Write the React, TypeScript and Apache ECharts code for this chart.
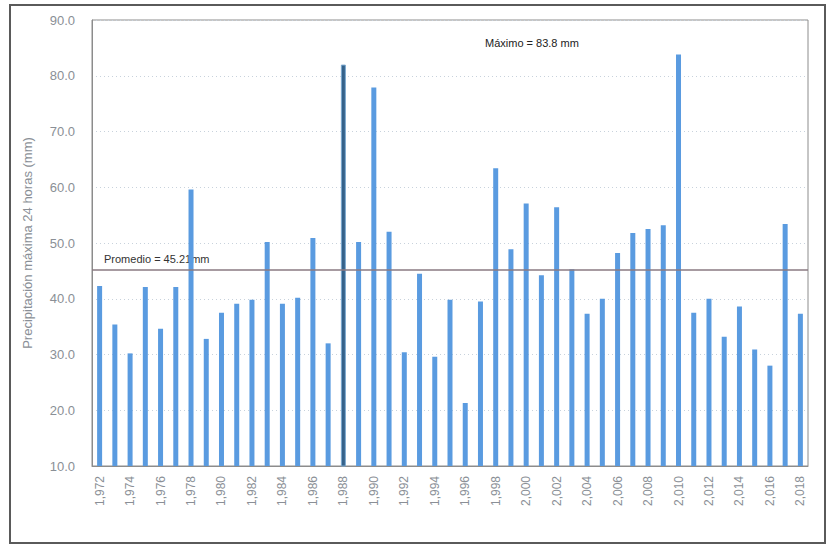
import React, { useEffect, useRef } from "react";
import * as echarts from "echarts";

const years = [
  1972, 1973, 1974, 1975, 1976, 1977, 1978, 1979, 1980, 1981, 1982, 1983, 1984, 1985, 1986, 1987,
  1988, 1989, 1990, 1991, 1992, 1993, 1994, 1995, 1996, 1997, 1998, 1999, 2000, 2001, 2002, 2003,
  2004, 2005, 2006, 2007, 2008, 2009, 2010, 2011, 2012, 2013, 2014, 2015, 2016, 2017, 2018,
];
const precip = [
  42.3, 35.4, 30.2, 42.1, 34.6, 42.1, 59.6, 32.8, 37.5, 39.1, 39.8, 50.2, 39.1, 40.2, 50.9, 32.0,
  82.0, 50.2, 77.9, 52.0, 30.4, 44.5, 29.6, 39.8, 21.3, 39.5, 63.4, 48.9, 57.1, 44.2, 56.4, 45.3,
  37.3, 40.0, 48.2, 51.8, 52.5, 53.2, 83.8, 37.5, 40.0, 33.2, 38.6, 30.9, 28.0, 53.4, 37.3,
];
const highlightYear = 1988;
const promedio = 45.21;
const maximo = 83.8;
const yTicks = [10, 20, 30, 40, 50, 60, 70, 80, 90];

export default function App() {
  const ref = useRef<HTMLDivElement>(null);
  useEffect(() => {
    if (!ref.current) return;
    const chart = echarts.init(ref.current, undefined, { renderer: "svg" });
    const cats = years.map((y) => y.toLocaleString("en-US"));
    chart.setOption({
      animation: false,
      backgroundColor: "#ffffff",
      grid: { left: 92, right: 20, top: 20, bottom: 80, show: true, borderColor: "#8c8c8c", borderWidth: 1 },
      graphic: [
        {
          type: "rect",
          shape: { x: 10, y: 5, width: 815, height: 538 },
          style: { fill: "none", stroke: "#5a5a5a", lineWidth: 2 },
          silent: true,
        },
        {
          type: "text",
          left: 485,
          top: 37,
          style: {
            text: `Máximo = ${maximo} mm`,
            fill: "#222222",
            font: "11px 'Liberation Sans', Arial, sans-serif",
          },
        },
        {
          type: "text",
          left: 104,
          top: 253,
          style: {
            text: `Promedio = ${promedio}mm`,
            fill: "#333333",
            font: "11px 'Liberation Sans', Arial, sans-serif",
          },
        },
      ],
      xAxis: {
        type: "category",
        data: cats,
        axisLine: { lineStyle: { color: "#8c8c8c" } },
        axisTick: { show: false },
        axisLabel: {
          interval: 1,
          rotate: 90,
          color: "#8a8f96",
          fontSize: 12,
          margin: 10,
          fontFamily: "'Liberation Sans', Arial, sans-serif",
        },
      },
      yAxis: {
        type: "value",
        min: yTicks[0],
        max: yTicks[yTicks.length - 1],
        interval: 10,
        name: "Precipitación máxima 24 horas (mm)",
        nameLocation: "middle",
        nameGap: 58,
        nameTextStyle: { color: "#8a8f96", fontSize: 13, fontFamily: "'Liberation Sans', Arial, sans-serif" },
        axisLine: { show: true, lineStyle: { color: "#8c8c8c" } },
        axisTick: { show: false },
        axisLabel: {
          color: "#8a8f96",
          fontSize: 13,
          margin: 17,
          formatter: (v: number) => v.toFixed(1),
          fontFamily: "'Liberation Sans', Arial, sans-serif",
        },
        splitLine: { lineStyle: { color: "#c8d2dc", type: [1, 3] } },
      },
      series: [
        {
          type: "bar",
          barWidth: 5,
          data: precip.map((v, i) =>
            years[i] === highlightYear
              ? { value: v, itemStyle: { color: "#35628a", borderColor: "#7aa8d0", borderWidth: 1 } }
              : { value: v }
          ),
          itemStyle: { color: "#5a9be0" },
          markLine: {
            silent: true,
            symbol: "none",
            label: { show: false },
            lineStyle: { color: "#8a7a82", width: 1.5, type: "solid" },
            data: [{ yAxis: promedio }],
          },
        },
      ],
    });
    return () => chart.dispose();
  }, []);
  return (
    <div
      ref={ref}
      style={{ position: "fixed", left: 0, top: 0, width: 828, height: 546 }}
    />
  );
}
